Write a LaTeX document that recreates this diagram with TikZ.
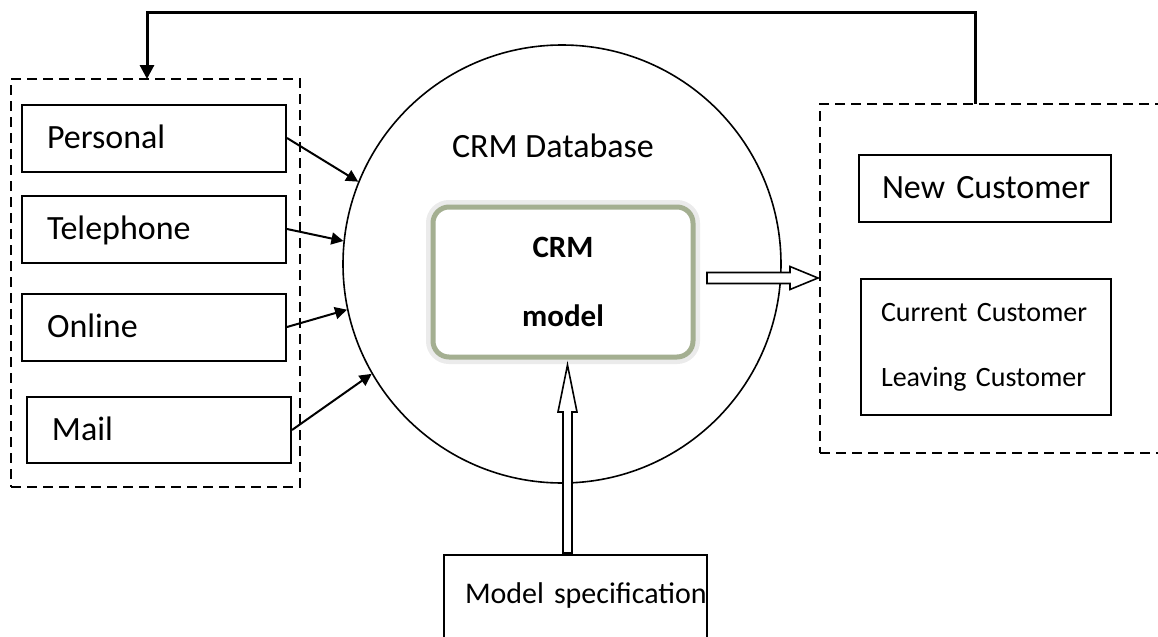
\documentclass[tikz,border=0pt]{standalone}
\usepackage{fontspec}
\setmainfont{Carlito}
\usepackage{tikz}
\usetikzlibrary{arrows.meta,calc}
\definecolor{crmgreen}{RGB}{164,175,145}

\begin{document}
\begin{tikzpicture}[x=0.5pt,y=-0.5pt,
  srcbox/.style={draw,line width=1pt,minimum height=33.5pt,text width=107pt,inner xsep=12.5pt,
    align=left,font=\fontsize{17}{20}\selectfont,text height=12pt,text depth=2pt},
  dashbox/.style={draw,line width=0.9pt,dash pattern=on 5pt off 3pt},
  crmbox/.style={draw=crmgreen,line width=2.5pt,fill=white,rounded corners=8pt,
    preaction={draw=black!8,line width=7pt},minimum width=130pt,minimum height=75pt,
    align=center,font=\bfseries\fontsize{15.5}{34.5}\selectfont},
  feed/.style={line width=1.5pt,-{Triangle[length=7pt,width=7pt]}},
  thin arrow/.style={line width=1pt,-{Triangle[length=6pt,width=6pt]}},
  hollow/.style={draw,line width=0.8pt,fill=white}]
\useasboundingbox (0,0) rectangle (1158,637);
% Sources
\node[dashbox,minimum width=144.5pt,minimum height=204pt] (sources) at (155.5,283) {};
\node[srcbox] (personal) at (154,138) {Personal};
\node[srcbox] (telephone) at (154,229) {Telephone};
\node[srcbox] (online) at (154,327) {Online};
\node[srcbox,minimum height=33pt] (mail) at (159,430) {Mail};
% Database
\node[draw,circle,line width=0.8pt,minimum size=219pt,inner sep=0pt] (db) at (562,264) {};
\node[font=\fontsize{17}{20}\selectfont,anchor=base] (dbname) at (553,157) {CRM Database};
\node[crmbox] (crm) at (563,282) {CRM\\model};
% Customers
\node[dashbox,minimum width=175pt,minimum height=174.5pt] (cust) at (995,278.5) {};
\node[srcbox,text width=103pt,inner xsep=11.5pt] (newcust) at (985,188) {\mbox{New Customer}};
\node[draw,line width=1pt,minimum height=68pt,text width=105pt,inner xsep=10pt,align=left,
  font=\fontsize{14}{32.5}\selectfont] (oldcust) at (986,347) {\mbox{Current Customer}\\\mbox{Leaving Customer}};
% Specification
\node[draw,line width=1pt,anchor=north,text width=110.5pt,inner xsep=10.5pt,inner ysep=0pt,
  align=left,font=\fontsize{15}{18}\selectfont,text height=24pt,text depth=25pt] (spec) at (575.5,554) {\mbox{Model specification}};
% Inputs
\draw[thin arrow] (personal.east) -- (db.158);
\draw[thin arrow] (telephone.east) -- (db.174);
\draw[thin arrow] (online.east) -- (db.192);
\draw[thin arrow] (mail.east) -- (db.210);
% Feedback
\coordinate (fbR) at (975,104);
\coordinate (fbL) at (147,79);
\draw[feed] (fbR) -- ++(0,-92) -| (fbL);
% Output to customers
\coordinate (outT) at (707,278);
\coordinate (outH) at (818,278);
\draw[hollow] ($(outT)+(0,-5.5)$) -- ($(outH)+(-28,-5.5)$) -- ($(outH)+(-28,-11.5)$) -- (outH)
  -- ($(outH)+(-28,11.5)$) -- ($(outH)+(-28,5.5)$) -- ($(outT)+(0,5.5)$) -- cycle;
% Specification into model
\coordinate (inT) at (567.5,553);
\coordinate (inH) at (567.5,365);
\draw[hollow] ($(inT)+(-4.5,0)$) -- ($(inH)+(-4.5,47)$) -- ($(inH)+(-9.5,47)$) -- (inH)
  -- ($(inH)+(9.5,47)$) -- ($(inH)+(4.5,47)$) -- ($(inT)+(4.5,0)$) -- cycle;
\end{tikzpicture}
\end{document}
